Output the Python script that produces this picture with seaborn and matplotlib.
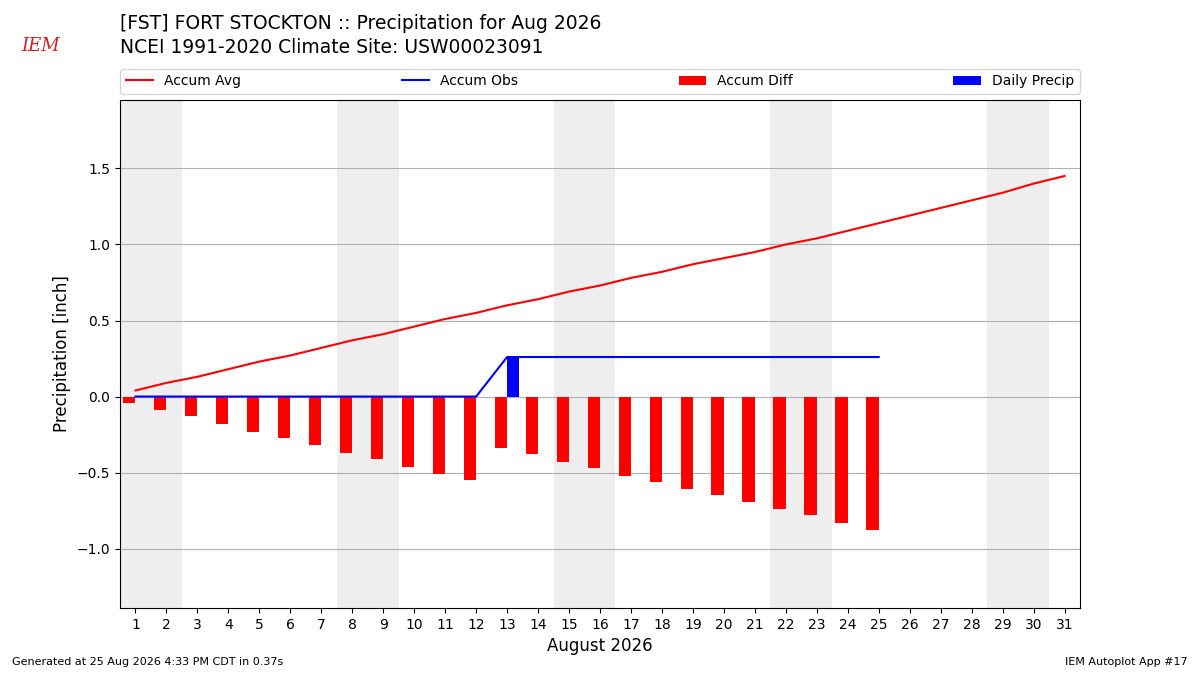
import matplotlib
matplotlib.use("Agg")
import matplotlib.pyplot as plt
import seaborn as sns
import numpy as np
import pandas as pd

days = list(range(1, 32))
accum_avg = [0.04, 0.09, 0.13, 0.18, 0.23, 0.27, 0.32, 0.37, 0.41, 0.46, 0.51,
             0.55, 0.60, 0.64, 0.69, 0.73, 0.78, 0.82, 0.87, 0.91, 0.95, 1.00,
             1.04, 1.09, 1.14, 1.19, 1.24, 1.29, 1.34, 1.40, 1.45]
obs_days = list(range(1, 26))
accum_obs = [0.0] * 12 + [0.26] * 13
daily_precip = [0.0] * 12 + [0.26] + [0.0] * 12
weekend_starts = [0.5, 7.5, 14.5, 21.5, 28.5]

accum_diff = [o - a for o, a in zip(accum_obs, accum_avg[:25])]

fig = plt.figure(figsize=(12, 6.75), dpi=100)
ax = fig.add_axes([0.1, 0.0993, 0.8, 0.7526])

for s in weekend_starts:
    ax.axvspan(s, s + 2, color="#EEEEEE", zorder=0, lw=0)

avg_df = pd.DataFrame({"day": days, "val": accum_avg})
obs_df = pd.DataFrame({"day": obs_days, "val": accum_obs})
sns.lineplot(data=avg_df, x="day", y="val", color="red", ax=ax, label="Accum Avg", zorder=3)
sns.lineplot(data=obs_df, x="day", y="val", color="blue", ax=ax, label="Accum Obs", zorder=3)
ax.bar(np.array(obs_days) - 0.4, accum_diff, width=0.4, align="edge", color="red",
       label="Accum Diff", zorder=2)
ax.bar(obs_days, daily_precip, width=0.4, align="edge", color="blue",
       label="Daily Precip", zorder=2)

ax.set_xlim(0.5, 31.5)
ax.set_ylim(-1.39, 1.95)
ax.set_xticks(days)
ax.set_yticks([-1.0, -0.5, 0.0, 0.5, 1.0, 1.5])
ax.yaxis.grid(True, color="#b0b0b0", lw=0.8)
ax.set_axisbelow(True)
ax.set_xlabel("August 2026", fontsize=12)
ax.set_ylabel("Precipitation [inch]", fontsize=12)
ax.legend(loc="lower left", bbox_to_anchor=(0, 1.012, 1, 0.05), ncol=4,
          mode="expand", borderaxespad=0, fontsize=10)

fig.text(0.1, 0.965, "[FST] FORT STOCKTON :: Precipitation for Aug 2026", fontsize=13.5, va="center")
fig.text(0.1, 0.93, "NCEI 1991-2020 Climate Site: USW00023091", fontsize=13.5, va="center")
fig.text(0.018, 0.925, "IEM", fontsize=13, color="#cc2222", style="italic", family="serif")
fig.text(0.01, 0.015, "Generated at 25 Aug 2026 4:33 PM CDT in 0.37s", fontsize=8)
fig.text(0.99, 0.015, "IEM Autoplot App #17", fontsize=8, ha="right")

fig.savefig("out.png", dpi=100)
